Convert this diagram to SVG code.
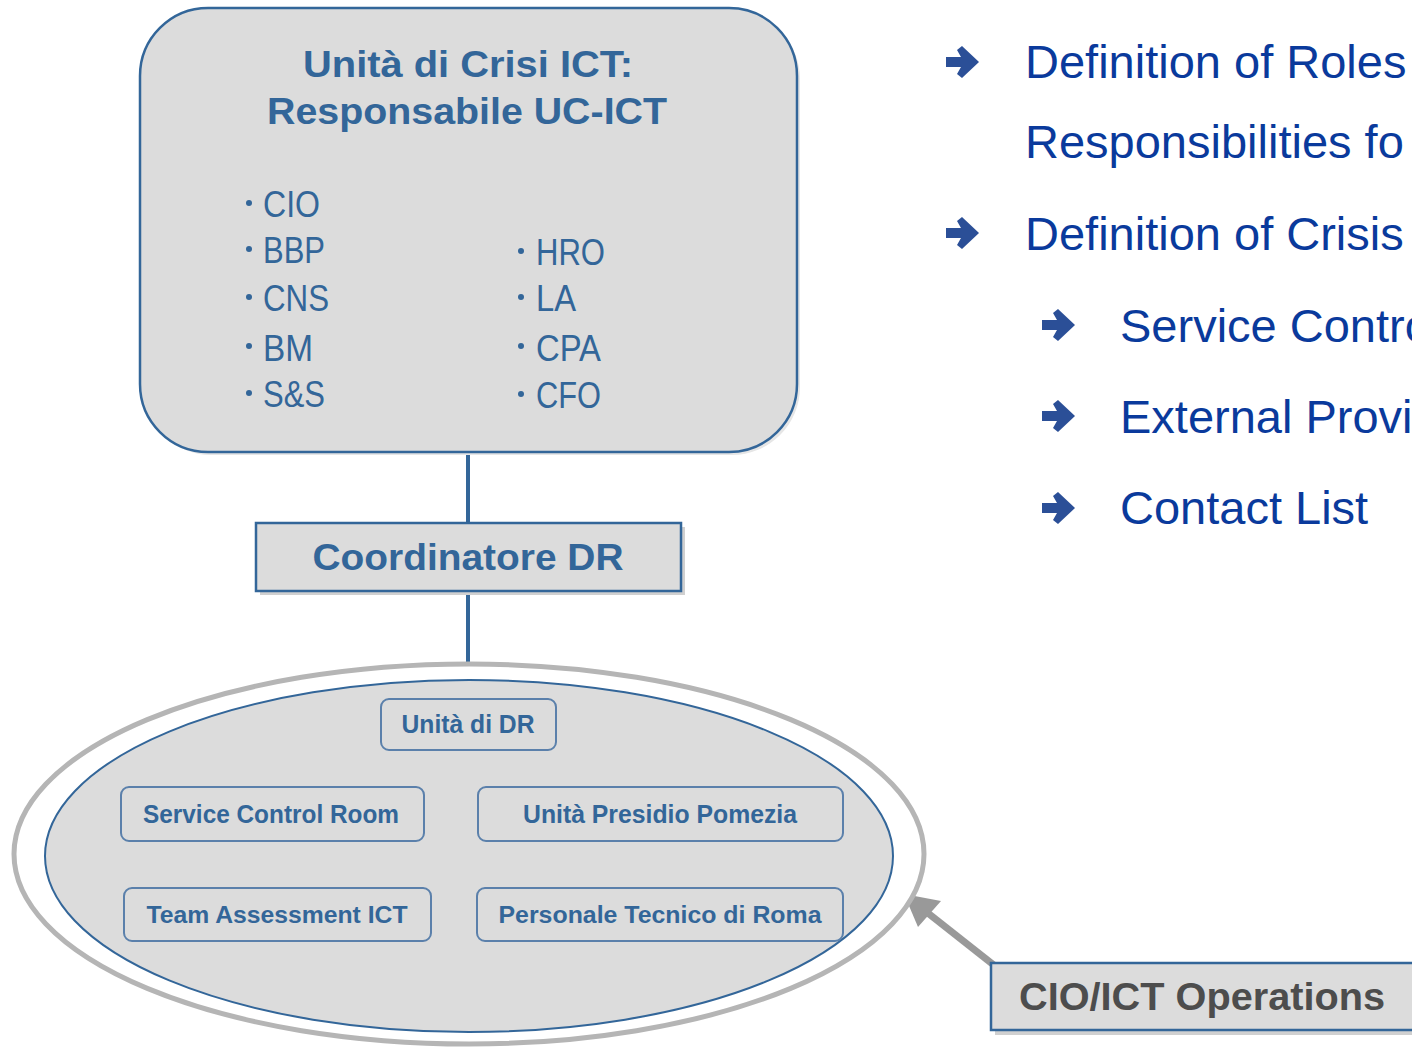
<svg xmlns="http://www.w3.org/2000/svg" width="1412" height="1048" viewBox="0 0 1412 1048">
<defs>
<style>
.box{fill:#dcdcdc;stroke:#336699;stroke-width:2.5}
.sbox{fill:#dcdcdc;stroke:#5b80ab;stroke-width:2}
.shadow{fill:#d0d0d0}
.t{font-family:"Liberation Sans",Arial,sans-serif;font-weight:bold;fill:#336699}
.n{font-family:"Liberation Sans Narrow","Liberation Sans",Arial,sans-serif;fill:#336699}
.nb{font-family:"Liberation Sans Narrow","Liberation Sans",Arial,sans-serif;fill:#336699;font-weight:bold}
.r{font-family:"Liberation Sans",Arial,sans-serif;fill:#0a3a9c;font-size:47px}
.dot{fill:#336699}
.blink{stroke:#336699;stroke-width:4;fill:none}
</style>
<path id="barrow" d="M0,11 H15 L11,4 L16,0 L33,16 L16,32 L11,28 L15,21 H0 Z" fill="#2b4f97"/>
</defs>

<g id="connectors">
<line class="blink" x1="468" y1="452" x2="468" y2="523"/>
<line class="blink" x1="468" y1="591" x2="468" y2="662"/>
<line x1="995" y1="966" x2="924" y2="910" stroke="#999999" stroke-width="7"/>
<polygon points="904,894 941,901 918,927" fill="#999999"/>
</g>

<g id="node-uc-ict">
<rect x="143" y="11" width="657" height="444" rx="68" ry="68" fill="#e6e6e6"/>
<rect class="box" x="140" y="8" width="657" height="444" rx="68" ry="68"/>
<text class="t" x="468" y="77" font-size="36" text-anchor="middle" textLength="330" lengthAdjust="spacingAndGlyphs">Unità di Crisi ICT:</text>
<text class="t" x="467" y="124" font-size="36" text-anchor="middle" textLength="400" lengthAdjust="spacingAndGlyphs">Responsabile UC-ICT</text>
<g>
<circle class="dot" cx="249" cy="203" r="3"/>
<circle class="dot" cx="249" cy="249" r="3"/>
<circle class="dot" cx="249" cy="297" r="3"/>
<circle class="dot" cx="249" cy="346" r="3"/>
<circle class="dot" cx="249" cy="393" r="3"/>
<circle class="dot" cx="521" cy="251" r="3"/>
<circle class="dot" cx="521" cy="297" r="3"/>
<circle class="dot" cx="521" cy="346" r="3"/>
<circle class="dot" cx="521" cy="394" r="3"/>
</g>
<text class="n" x="263" y="217" font-size="37" textLength="57" lengthAdjust="spacingAndGlyphs">CIO</text>
<text class="n" x="263" y="263" font-size="37" textLength="62" lengthAdjust="spacingAndGlyphs">BBP</text>
<text class="n" x="263" y="311" font-size="37" textLength="66" lengthAdjust="spacingAndGlyphs">CNS</text>
<text class="n" x="263" y="361" font-size="37" textLength="50" lengthAdjust="spacingAndGlyphs">BM</text>
<text class="n" x="263" y="407" font-size="37" textLength="62" lengthAdjust="spacingAndGlyphs">S&amp;S</text>
<text class="n" x="536" y="265" font-size="37" textLength="69" lengthAdjust="spacingAndGlyphs">HRO</text>
<text class="n" x="536" y="311" font-size="37" textLength="40" lengthAdjust="spacingAndGlyphs">LA</text>
<text class="n" x="536" y="361" font-size="37" textLength="65" lengthAdjust="spacingAndGlyphs">CPA</text>
<text class="n" x="536" y="408" font-size="37" textLength="65" lengthAdjust="spacingAndGlyphs">CFO</text>
</g>

<g id="node-coordinatore">
<rect class="shadow" x="260" y="527" width="425" height="68"/>
<rect class="box" x="256" y="523" width="425" height="68"/>
<text class="t" x="468" y="570" font-size="37" text-anchor="middle" textLength="311" lengthAdjust="spacingAndGlyphs">Coordinatore DR</text>
</g>

<g id="node-dr-group">
<ellipse cx="469" cy="854" rx="455" ry="190" fill="#ffffff" stroke="#b5b5b5" stroke-width="5"/>
<ellipse cx="469" cy="856" rx="424" ry="176" fill="#dcdcdc" stroke="#336699" stroke-width="2"/>
</g>

<g id="node-unita-dr">
<rect class="sbox" x="381" y="699" width="175" height="51" rx="8"/>
<text class="nb" x="468" y="733" font-size="25" text-anchor="middle" textLength="133" lengthAdjust="spacingAndGlyphs">Unità di DR</text>
</g>
<g id="node-scr">
<rect class="sbox" x="121" y="787" width="303" height="54" rx="8"/>
<text class="nb" x="271" y="823" font-size="26" text-anchor="middle" textLength="256" lengthAdjust="spacingAndGlyphs">Service Control Room</text>
</g>
<g id="node-pomezia">
<rect class="sbox" x="478" y="787" width="365" height="54" rx="8"/>
<text class="nb" x="660" y="823" font-size="26" text-anchor="middle" textLength="274" lengthAdjust="spacingAndGlyphs">Unità Presidio Pomezia</text>
</g>
<g id="node-team">
<rect class="sbox" x="124" y="888" width="307" height="53" rx="8"/>
<text class="nb" x="277" y="923" font-size="24" text-anchor="middle" textLength="261" lengthAdjust="spacingAndGlyphs">Team Assessment ICT</text>
</g>
<g id="node-roma">
<rect class="sbox" x="477" y="888" width="366" height="53" rx="8"/>
<text class="nb" x="660" y="923" font-size="24" text-anchor="middle" textLength="323" lengthAdjust="spacingAndGlyphs">Personale Tecnico di Roma</text>
</g>

<g id="node-cio-ops">
<rect class="shadow" x="995" y="968" width="420" height="67"/>
<rect class="box" x="991" y="963" width="425" height="67"/>
<text class="t" x="1019" y="1010" font-size="38" style="fill:#4d4d4d" textLength="366" lengthAdjust="spacingAndGlyphs">CIO/ICT Operations</text>
</g>

<g id="bullets-text">
<use href="#barrow" x="946" y="46"/>
<text class="r" x="1025" y="78">Definition of Roles</text>
<text class="r" x="1025" y="158">Responsibilities fo</text>
<use href="#barrow" x="946" y="217"/>
<text class="r" x="1025" y="250">Definition of Crisis</text>
<use href="#barrow" x="1042" y="309"/>
<text class="r" x="1120" y="342">Service Contro</text>
<use href="#barrow" x="1042" y="400"/>
<text class="r" x="1120" y="433">External Provi</text>
<use href="#barrow" x="1042" y="492"/>
<text class="r" x="1120" y="524">Contact List</text>
</g>
</svg>
